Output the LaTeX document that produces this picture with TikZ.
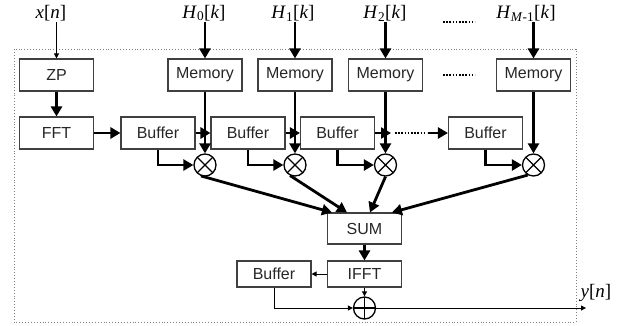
\documentclass[tikz,border=0pt]{standalone}
\usepackage{fontspec}
\setmainfont{Liberation Serif}
\setsansfont{Liberation Sans}
\usetikzlibrary{arrows.meta,calc}

\begin{document}
\begin{tikzpicture}[x=1pt,y=-1pt,
  blk/.style={draw=black!75, line width=1.1pt, minimum width=74pt, minimum height=32pt,
    inner sep=0pt, font=\sffamily\fontsize{16}{16}\selectfont, text=black!85},
  lowblk/.style={blk, minimum height=26pt},
  lbl/.style={inner sep=1pt, font=\fontsize{19}{19}\selectfont},
  big/.style={line width=2.8pt, -{Triangle[length=10pt,width=11pt]}},
  small/.style={line width=1pt, -{Triangle[length=5pt,width=5pt]}},
  dotline/.style={line width=1.8pt, dash pattern=on 1.6pt off 1.6pt},
  mul/.style={circle, draw, line width=1.3pt, minimum size=22pt, inner sep=0pt,
    path picture={\draw[line width=1.1pt]
      (path picture bounding box.north west) -- (path picture bounding box.south east)
      (path picture bounding box.south west) -- (path picture bounding box.north east);}},
  add/.style={circle, draw, line width=1.3pt, minimum size=22pt, inner sep=0pt,
    path picture={\draw[line width=1.1pt]
      (path picture bounding box.north) -- (path picture bounding box.south)
      (path picture bounding box.west) -- (path picture bounding box.east);}}
]
\useasboundingbox (0,0) rectangle (631,325);

% frame of the filter block
\draw[gray, line width=0.9pt, dotted] (14,49) rectangle (576,322);

% inputs
\node[lbl] (xn) at (51,13) {\textit{x}[\textit{n}]};
\node[lbl] (h0) at (204,13) {\textit{H}\textsubscript{0}[\textit{k}]};
\node[lbl] (h1) at (293,13) {\textit{H}\textsubscript{1}[\textit{k}]};
\node[lbl] (h2) at (385,13) {\textit{H}\textsubscript{2}[\textit{k}]};
\node[lbl] (hm) at (526,13) {\textit{H}\textsubscript{\textit{M}-1}[\textit{k}]};
\draw[dotline] (443,22) -- (475,22);

% blocks
\node[blk] (zp) at (56.5,75) {ZP};
\node[blk] (fft) at (56.5,133) {FFT};
\node[blk] (mem1) at (205,75) {Memory};
\node[blk] (mem2) at (295,75) {Memory};
\node[blk] (mem3) at (385.5,75) {Memory};
\node[blk] (mem4) at (533.5,75) {Memory};
\draw[dotline] (443,75) -- (475,75);
\node[blk] (buf1) at (158,133) {Buffer};
\node[blk] (buf2) at (248,133) {Buffer};
\node[blk] (buf3) at (337.5,133) {Buffer};
\node[blk] (buf4) at (485.5,133) {Buffer};

\node[mul] (m1) at (205,165) {};
\node[mul] (m2) at (295,165) {};
\node[mul] (m3) at (385.5,165) {};
\node[mul] (m4) at (533.5,165) {};

\node[blk, minimum height=31pt] (sum) at (364.5,228.5) {SUM};
\node[lowblk] (ifft) at (364.5,274) {IFFT};
\node[lowblk] (obuf) at (274,274) {Buffer};
\node[add] (ad) at (364.5,308) {};
\node[lbl] (yn) at (596,293) {\textit{y}[\textit{n}]};

% input path
\draw[small] (zp.north |- xn.south) -- (zp.north);
\draw[big] (zp) -- (fft);
\draw[big] (fft) -- (buf1);

% buffer chain
\coordinate (c1) at (391,133);
\coordinate (c2) at (428,133);
\draw[big] (buf1) -- (buf2);
\draw[big] (buf2) -- (buf3);
\draw[big] (buf3.east) -- (c1);
\draw[dotline] (395,133) -- (427,133);
\draw[big] (c2) -- (buf4.west);

% coefficient paths
\draw[big] (mem1.north |- h0.south) -- (mem1.north);
\draw[big] (mem2.north |- h1.south) -- (mem2.north);
\draw[big] (mem3.north |- h2.south) -- (mem3.north);
\draw[big] (mem4.north |- hm.south) -- (mem4.north);
\draw[big] (mem1) -- (m1);
\draw[big] (mem2) -- (m2);
\draw[big] (mem3) -- (m3);
\draw[big] (mem4) -- (m4);

% buffer outputs into the multipliers
\draw[big] (buf1.south) |- (m1.west);
\draw[big] (buf2.south) |- (m2.west);
\draw[big] (buf3.south) |- (m3.west);
\draw[big] (buf4.south) |- (m4.west);

% products into the sum
\draw[big] (m1.250) -- ($(sum.north west)+(5,0)$);
\draw[big] (m2.245) -- ($(sum.north west)+(20,0)$);
\draw[big] (m3.south) -- ($(sum.north west)+(43,0)$);
\draw[big] (m4.240) -- ($(sum.north west)+(65,0)$);

% output stage
\draw[big] (sum) -- (ifft);
\draw[small] (ifft) -- (obuf);
\draw[small] (ifft) -- (ad);
\draw[small] (obuf.south) |- (ad.west);
\coordinate (out) at (586,308);
\draw[small] (ad.east) -- (out);
\end{tikzpicture}
\end{document}
